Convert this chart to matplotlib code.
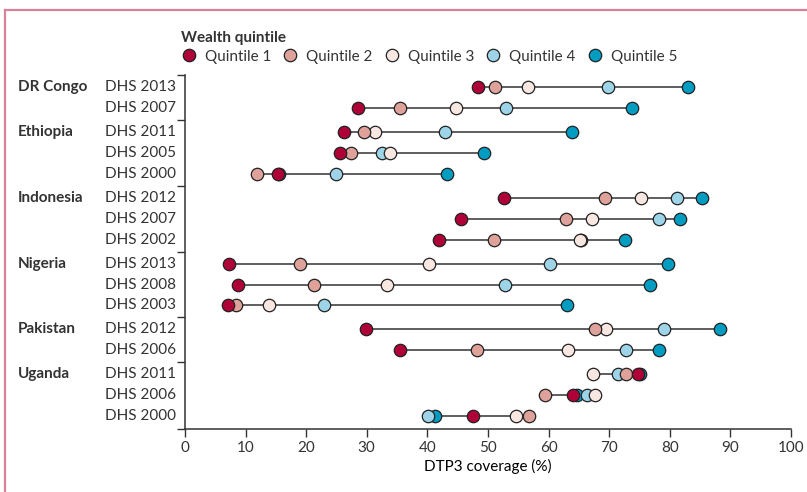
import numpy as np
import matplotlib.pyplot as plt
from matplotlib.lines import Line2D
from matplotlib.transforms import blended_transform_factory

plt.rcParams['font.family'] = ['Liberation Sans Narrow', 'Lato', 'DejaVu Sans']
plt.rcParams['font.size'] = 11
plt.rcParams['text.color'] = '#333333'

# Data (DTP3 coverage, %, by wealth quintile)
countries = ['DR Congo', 'Ethiopia', 'Indonesia', 'Nigeria', 'Pakistan', 'Uganda']
surveys = [['DHS 2013', 'DHS 2007'],
           ['DHS 2011', 'DHS 2005', 'DHS 2000'],
           ['DHS 2012', 'DHS 2007', 'DHS 2002'],
           ['DHS 2013', 'DHS 2008', 'DHS 2003'],
           ['DHS 2012', 'DHS 2006'],
           ['DHS 2011', 'DHS 2006', 'DHS 2000']]

q1 = [48.3, 28.5, 26.2, 25.6, 15.4, 52.7, 45.5, 42.0, 7.3, 8.7, 7.1, 29.9, 35.5, 74.7, 64.1, 47.6]
q2 = [51.1, 35.5, 29.5, 27.4, 11.9, 69.3, 62.9, 51.0, 19.0, 21.3, 8.5, 67.6, 48.2, 72.8, 59.4, 56.7]
q3 = [56.6, 44.7, 31.4, 33.9, 15.5, 75.2, 67.1, 65.2, 40.3, 33.3, 13.9, 69.5, 63.3, 67.3, 67.7, 54.6]
q4 = [69.9, 53.0, 42.9, 32.6, 24.9, 81.2, 78.3, 65.4, 60.3, 52.9, 23.0, 79.1, 72.8, 71.4, 66.4, 40.1]
q5 = [83.1, 73.8, 63.8, 49.4, 43.3, 85.4, 81.7, 72.6, 79.8, 76.8, 63.1, 88.3, 78.2, 75.1, 64.7, 41.3]

quintiles = [q1, q2, q3, q4, q5]
q_labels = ['Quintile 1', 'Quintile 2', 'Quintile 3', 'Quintile 4', 'Quintile 5']
q_colors = ['#b00038', '#dea29a', '#f8e6e1', '#9dd4e8', '#009cc2']

# Row positions with a small gap between countries
gap = 0.15
ypos = []
group_first = []
bounds = []
y = 0.0
for i, s in enumerate(surveys):
    if i > 0:
        y += gap
        bounds.append(y - 0.5 - gap / 2)
    group_first.append(y)
    for _ in s:
        ypos.append(y)
        y += 1
ypos = np.array(ypos)
top = ypos[0] - 0.58
bottom = ypos[-1] + 0.6

fig = plt.figure(figsize=(8.07, 4.92), dpi=100)
ax = fig.add_axes([0.2292, 0.1287, 0.7508, 0.7189])

vals = np.array(quintiles)
ax.hlines(ypos, vals.min(axis=0), vals.max(axis=0), color='#333333', lw=1.1, zorder=1)

# draw quintile 5 first so quintile 1 sits on top
for k in range(4, -1, -1):
    ax.scatter(quintiles[k], ypos, s=80, color=q_colors[k], edgecolor='#222222',
               linewidth=0.9, zorder=2 + (4 - k), label=q_labels[k])

ax.set_xlim(0, 100)
ax.set_xticks(np.arange(0, 101, 10))
ax.set_ylim(bottom, top)
ax.set_yticks([top] + bounds + [bottom])
ax.set_yticklabels([])
ax.tick_params(axis='both', direction='out', length=5.5, width=1, color='#333333', labelcolor='#333333')
ax.set_xlabel('DTP3 coverage (%)', labelpad=3)
for sp in ['top', 'right']:
    ax.spines[sp].set_visible(False)
for sp in ['left', 'bottom']:
    ax.spines[sp].set_color('#333333')
    ax.spines[sp].set_linewidth(1.1)

# Row labels
tr = blended_transform_factory(fig.transFigure, ax.transData)
idx = 0
for c, s, gy in zip(countries, surveys, group_first):
    ax.text(18 / 807, gy, c, transform=tr, fontweight='bold', va='center', ha='left')
    for lab in s:
        ax.text(105 / 807, ypos[idx], lab, transform=tr, va='center', ha='left')
        idx += 1

# Legend
handles, labels = ax.get_legend_handles_labels()
leg = fig.legend(handles[::-1], labels[::-1], ncol=5, frameon=False, title='Wealth quintile',
                 loc='upper left', bbox_to_anchor=(181 / 807, 1 - 31 / 492),
                 handletextpad=0.55, columnspacing=0.75, borderaxespad=0, borderpad=0,
                 labelspacing=0.2, handlelength=1.0, handleheight=1.2, alignment='left')
leg.get_title().set_fontweight('bold')

# Pink frame
fig.add_artist(Line2D([5 / 807, 5 / 807], [0, 1 - 10 / 492], color='#d9809b', lw=1.6))
fig.add_artist(Line2D([5 / 807, 1], [1 - 10 / 492, 1 - 10 / 492], color='#d9809b', lw=1.6))

fig.savefig('out.png', dpi=100)
